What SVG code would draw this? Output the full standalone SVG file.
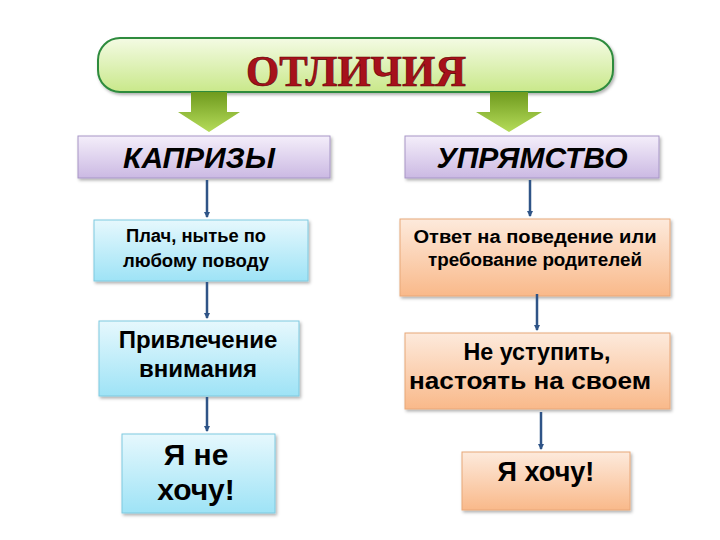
<svg xmlns="http://www.w3.org/2000/svg" width="720" height="540" viewBox="0 0 720 540">
<defs>
<linearGradient id="gT" x1="0" y1="0" x2="0" y2="1"><stop offset="0" stop-color="#f4fbe4"/><stop offset="1" stop-color="#c9e88a"/></linearGradient>
<linearGradient id="gA" x1="0" y1="0" x2="0" y2="1"><stop offset="0" stop-color="#6f9a1e"/><stop offset="1" stop-color="#b5dc5a"/></linearGradient>
<linearGradient id="gL" x1="0" y1="0" x2="0" y2="1"><stop offset="0" stop-color="#f4eefa"/><stop offset="1" stop-color="#cbb9e3"/></linearGradient>
<linearGradient id="gB" x1="0" y1="0" x2="0" y2="1"><stop offset="0" stop-color="#e6f8fd"/><stop offset="1" stop-color="#9ee3f6"/></linearGradient>
<linearGradient id="gO" x1="0" y1="0" x2="0" y2="1"><stop offset="0" stop-color="#fdeadc"/><stop offset="1" stop-color="#f9b98a"/></linearGradient>
<marker id="ah" markerWidth="6" markerHeight="6" refX="5" refY="3" orient="auto" markerUnits="userSpaceOnUse" viewBox="0 0 6 6"><path d="M0,0 L6,3 L0,6 z" fill="#2f5487"/></marker>
<filter id="sh" x="-10%" y="-10%" width="130%" height="140%"><feDropShadow dx="1.5" dy="2" stdDeviation="1.5" flood-color="#000" flood-opacity="0.3"/></filter>
</defs>
<style>
.t{font-family:"Liberation Sans",Arial,sans-serif;font-weight:bold;text-anchor:middle;fill:#000}
.h{font-style:italic;font-size:30px}
.bl{fill:url(#gB);stroke:#7fc9df;stroke-width:1}
.or{fill:url(#gO);stroke:#e8a778;stroke-width:1}
.lv{fill:url(#gL);stroke:#a796c6;stroke-width:1}
.c{stroke:#2f5487;stroke-width:2.5;fill:none;marker-end:url(#ah)}
</style>
<rect width="720" height="540" fill="#fff"/>
<g id="title"><rect x="98" y="38" width="515" height="54" rx="22" fill="url(#gT)" stroke="#2e8b3e" stroke-width="2" filter="url(#sh)"/>
<text x="356" y="86" text-anchor="middle" font-family="Liberation Serif,serif" font-weight="bold" font-size="44" fill="#a6111b" stroke="#5a0000" stroke-width="0.6" textLength="220" lengthAdjust="spacingAndGlyphs">ОТЛИЧИЯ</text></g>
<g id="arrows-green">
<path d="M191,92 H227 V112 H240 L209,132 L178,112 H191 Z" fill="url(#gA)"/>
<path d="M490,92 H528 V112 H542 L509,132 L476,112 H490 Z" fill="url(#gA)"/>
</g>
<g id="kaprizy"><rect x="78" y="136" width="252" height="42" class="lv" filter="url(#sh)"/><text x="199" y="168" class="t h">КАПРИЗЫ</text></g>
<g id="upryamstvo"><rect x="405" y="136" width="254" height="42" class="lv" filter="url(#sh)"/><text x="532" y="168" class="t h">УПРЯМСТВО</text></g>
<g id="l1"><rect x="94" y="220" width="214" height="61" class="bl" filter="url(#sh)"/><text class="t" font-size="18"><tspan x="196" y="242" textLength="140" lengthAdjust="spacingAndGlyphs">Плач, нытье по</tspan><tspan x="196" y="267" textLength="146" lengthAdjust="spacingAndGlyphs">любому поводу</tspan></text></g>
<g id="l2"><rect x="99" y="321" width="200" height="75" class="bl" filter="url(#sh)"/><text class="t" font-size="24"><tspan x="198" y="348">Привлечение</tspan><tspan x="198" y="377">внимания</tspan></text></g>
<g id="l3"><rect x="122" y="434" width="153" height="79" class="bl" filter="url(#sh)"/><text class="t" font-size="30"><tspan x="196" y="465">Я не</tspan><tspan x="196" y="500">хочу!</tspan></text></g>
<g id="r1"><rect x="400" y="219" width="270" height="77" class="or" filter="url(#sh)"/><text class="t" font-size="18"><tspan x="535" y="243" textLength="243" lengthAdjust="spacingAndGlyphs">Ответ на поведение или</tspan><tspan x="535" y="266" textLength="214" lengthAdjust="spacingAndGlyphs">требование родителей</tspan></text></g>
<g id="r2"><rect x="405" y="333" width="265" height="76" class="or" filter="url(#sh)"/><text class="t" font-size="23"><tspan x="537" y="360" textLength="147" lengthAdjust="spacingAndGlyphs">Не уступить,</tspan><tspan x="530" y="389" textLength="242" lengthAdjust="spacingAndGlyphs">настоять на своем</tspan></text></g>
<g id="r3"><rect x="462" y="452" width="168" height="58" class="or" filter="url(#sh)"/><text x="546" y="481" class="t" font-size="27">Я хочу!</text></g>
<g id="connectors">
<line x1="207" y1="180" x2="207" y2="217" class="c"/>
<line x1="207" y1="282" x2="207" y2="318" class="c"/>
<line x1="207" y1="397" x2="207" y2="431" class="c"/>
<line x1="530" y1="180" x2="530" y2="216" class="c"/>
<line x1="537" y1="294" x2="537" y2="330" class="c"/>
<line x1="541" y1="412" x2="541" y2="449" class="c"/>
</g>
</svg>
